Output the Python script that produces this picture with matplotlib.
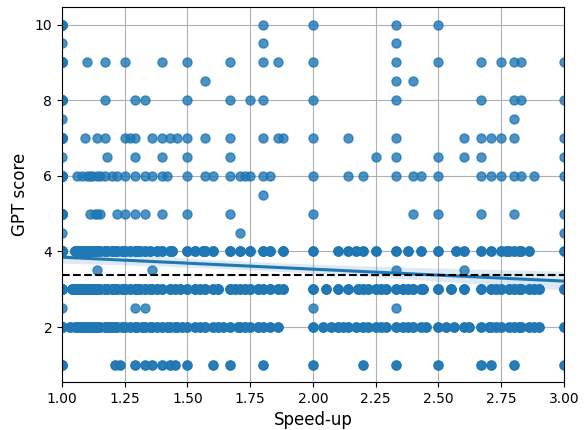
import numpy as np
import pandas as pd
import matplotlib
matplotlib.use("Agg")
import matplotlib.pyplot as plt
import seaborn as sns

# Speed-up values seen on each GPT score row
row_10 = [1.0, 1.8, 2.0, 2.33, 2.5]
row_9_5 = [1.0, 1.8, 2.33]
row_9 = [1.0, 1.1, 1.17, 1.25, 1.4, 1.5, 1.67, 1.8, 1.86, 2.0, 2.33, 2.5, 2.67,
         2.75, 2.8, 2.83, 3.0]
row_8_5 = [1.57, 2.33, 2.4]
row_8 = [1.0, 1.17, 1.29, 1.33, 1.5, 1.67, 1.75, 1.8, 2.0, 2.33, 2.67, 2.8, 2.83, 3.0]
row_7_5 = [1.0, 2.8]
row_7 = [1.0, 1.09, 1.14, 1.17, 1.25, 1.27, 1.29, 1.36, 1.4, 1.43, 1.46, 1.5, 1.57,
         1.67, 1.8, 1.86, 1.88, 2.0, 2.14, 2.33, 2.6, 2.67, 2.71, 2.75, 2.8, 3.0]
row_6_5 = [1.0, 1.18, 1.29, 1.4, 1.5, 1.67, 2.25, 2.33, 2.5, 2.6, 2.67, 3.0]
row_6 = [1.0, 1.06, 1.08, 1.1, 1.11, 1.12, 1.14, 1.15, 1.17, 1.2, 1.22, 1.25, 1.29,
         1.33, 1.36, 1.4, 1.42, 1.5, 1.57, 1.6, 1.67, 1.71, 1.73, 1.75, 1.8, 1.83,
         2.0, 2.14, 2.2, 2.33, 2.4, 2.43, 2.5, 2.67, 2.71, 2.75, 2.8, 2.83, 2.88, 3.0]
row_5_5 = [1.8]
row_5 = [1.0, 1.11, 1.13, 1.14, 1.15, 1.22, 1.25, 1.29, 1.33, 1.4, 1.5, 1.67, 2.0,
         2.4, 2.5, 2.67, 2.8, 3.0]
row_4_5 = [1.0, 1.71, 3.0]
row_4 = [1.0, 1.05, 1.06, 1.07, 1.08, 1.09, 1.1, 1.11, 1.12, 1.13, 1.14, 1.15, 1.17,
         1.18, 1.2, 1.21, 1.22, 1.24, 1.25, 1.27, 1.29, 1.3, 1.31, 1.33, 1.35, 1.38,
         1.4, 1.43, 1.44, 1.5, 1.53, 1.56, 1.57, 1.6, 1.67, 1.71, 1.75, 1.8, 1.83,
         1.88, 2.0, 2.1, 2.14, 2.17, 2.2, 2.25, 2.33, 2.38, 2.43, 2.5, 2.57, 2.6,
         2.67, 2.71, 2.75, 2.77, 2.78, 2.8, 2.82, 2.83, 2.86, 3.0]
row_3_5 = [1.14, 1.36, 2.33, 2.6]
row_3 = [1.0, 1.04, 1.05, 1.06, 1.07, 1.08, 1.09, 1.1, 1.11, 1.12, 1.13, 1.14, 1.15,
         1.17, 1.18, 1.2, 1.21, 1.22, 1.24, 1.25, 1.27, 1.29, 1.3, 1.31, 1.33, 1.35,
         1.36, 1.38, 1.4, 1.43, 1.45, 1.47, 1.5, 1.53, 1.55, 1.57, 1.6, 1.62, 1.67,
         1.69, 1.71, 1.73, 1.75, 1.78, 1.8, 1.83, 1.86, 1.88, 2.0, 2.05, 2.1, 2.14,
         2.18, 2.2, 2.22, 2.25, 2.27, 2.29, 2.33, 2.36, 2.38, 2.4, 2.43, 2.44, 2.5,
         2.55, 2.6, 2.67, 2.71, 2.73, 2.75, 2.78, 2.8, 2.82, 2.83, 2.86, 2.88, 2.9, 3.0]
row_2_5 = [1.0, 1.29, 1.33, 2.0, 2.33]
row_2 = [1.0, 1.03, 1.05, 1.06, 1.07, 1.08, 1.09, 1.1, 1.11, 1.12, 1.13, 1.14, 1.15,
         1.17, 1.18, 1.19, 1.2, 1.21, 1.22, 1.24, 1.25, 1.27, 1.29, 1.3, 1.32, 1.33,
         1.35, 1.36, 1.38, 1.4, 1.42, 1.43, 1.45, 1.46, 1.48, 1.5, 1.53, 1.55, 1.57,
         1.6, 1.62, 1.64, 1.67, 1.7, 1.71, 1.73, 1.75, 1.78, 1.8, 1.83, 1.86, 2.0,
         2.04, 2.07, 2.1, 2.12, 2.14, 2.17, 2.2, 2.22, 2.25, 2.27, 2.29, 2.33, 2.36,
         2.38, 2.4, 2.43, 2.45, 2.5, 2.53, 2.56, 2.6, 2.62, 2.67, 2.7, 2.71, 2.73,
         2.75, 2.78, 2.8, 2.82, 2.83, 2.86, 2.88, 2.9, 3.0]
row_1 = [1.0, 1.21, 1.23, 1.29, 1.33, 1.36, 1.4, 1.43, 1.45, 1.5, 1.6, 1.67, 1.8,
         2.0, 2.2, 2.33, 2.5, 2.67, 2.71, 2.8, 3.0]

rows = {10: row_10, 9.5: row_9_5, 9: row_9, 8.5: row_8_5, 8: row_8, 7.5: row_7_5,
        7: row_7, 6.5: row_6_5, 6: row_6, 5.5: row_5_5, 5: row_5, 4.5: row_4_5,
        4: row_4, 3.5: row_3_5, 3: row_3, 2.5: row_2_5, 2: row_2, 1: row_1}

# the bottom rows hide many overlapping answers (below / above speed-up 2)
stack_left = {4: 4, 3: 4, 2: 3, 1: 2}
stack_right = {4: 3, 3: 4, 2: 3, 1: 2}
# extra overlapping answers with no speed-up (x = 1.0)
no_speedup_scores = [1, 2, 3, 4, 5, 6, 7, 8, 9, 10]
no_speedup_counts = [3, 10, 10, 15, 12, 15, 12, 8, 8, 5]

baseline_score = 3.37

xs, ys = [], []
for score, vals in rows.items():
    for v in vals:
        n = stack_left.get(score, 1) if v < 2 else stack_right.get(score, 1)
        xs += [v] * n
        ys += [score] * n
for score, n in zip(no_speedup_scores, no_speedup_counts):
    xs += [1.0] * n
    ys += [score] * n
df = pd.DataFrame({"speedup": xs, "score": ys})

fig = plt.figure(figsize=(5.87, 4.30), dpi=100)
ax = fig.add_axes([0.1056, 0.1116, 0.8552, 0.871])

sns.regplot(data=df, x="speedup", y="score", ax=ax, seed=0,
            scatter_kws={"s": 42}, line_kws={"lw": 2.2})
ax.axhline(baseline_score, color="black", linestyle="--", linewidth=1.5)

ax.set_xlim(1.0, 3.0)
ax.set_ylim(0.55, 10.45)
ax.set_xticks([1.0, 1.25, 1.5, 1.75, 2.0, 2.25, 2.5, 2.75, 3.0])
ax.set_yticks([2, 4, 6, 8, 10])
ax.grid(True)
ax.set_axisbelow(True)
ax.set_xlabel("Speed-up", fontsize=12)
ax.set_ylabel("GPT score", fontsize=12)

fig.savefig("out.png", dpi=100)
